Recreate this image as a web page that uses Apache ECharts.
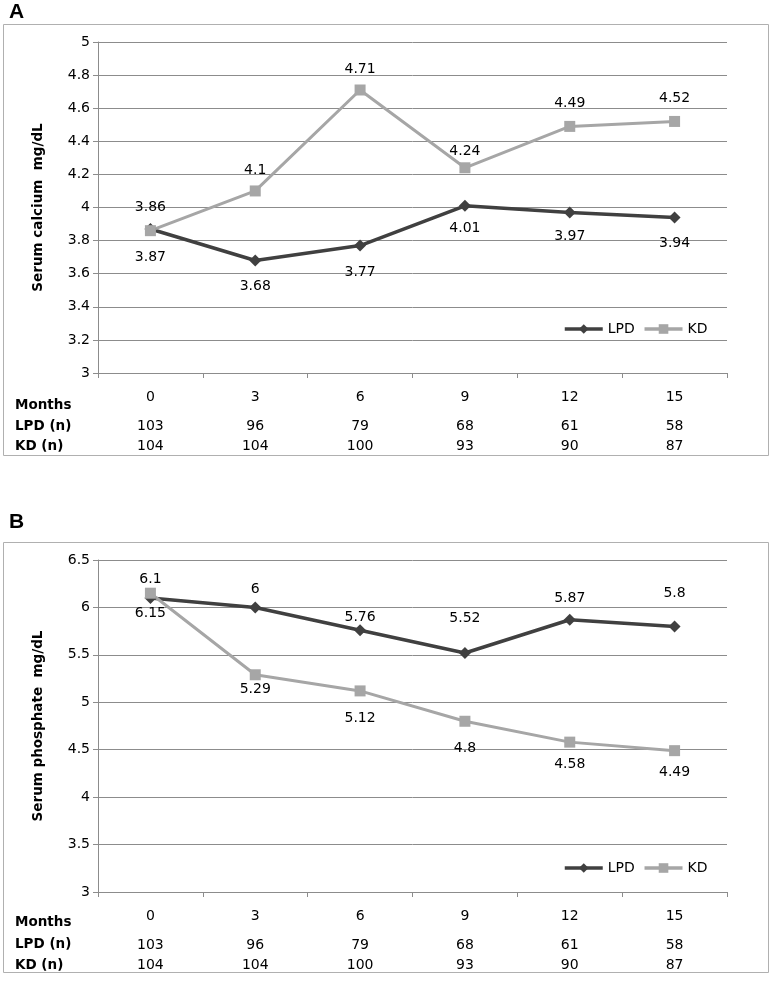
<!DOCTYPE html>
<html>
<head>
<meta charset="utf-8">
<script src="https://cdn.jsdelivr.net/npm/echarts@6/dist/echarts.min.js"></script>
<style>
html,body{margin:0;padding:0;background:#fff;}
#c{width:771px;height:991px;}
</style>
</head>
<body>
<div id="c"></div>
<script>
// ---- data ----
var months = ['0', '3', '6', '9', '12', '15'];
var lpdN = ['103', '96', '79', '68', '61', '58'];
var kdN = ['104', '104', '100', '93', '90', '87'];
var calciumLPD = [3.87, 3.68, 3.77, 4.01, 3.97, 3.94];
var calciumKD = [3.86, 4.1, 4.71, 4.24, 4.49, 4.52];
var phosphateLPD = [6.1, 6.0, 5.76, 5.52, 5.87, 5.8];
var phosphateKD = [6.15, 5.29, 5.12, 4.8, 4.58, 4.49];
var rowHeaders = ['Months', 'LPD (n)', 'KD (n)'];

// ---- styles (label vertical shifts, px) ----
var shiftCaLPD = [28, 26, 27, 23, 24, 26];
var shiftCaKD = [-23, -21, -21, -16, -23, -23];
var shiftPhLPD = [-19, -18, -13, -35, -21, -33];
var shiftPhKD = [20, 15, 27, 27, 22, 22];

var FONT = 'DejaVu Sans';
var DARK = '#404040';
var LIGHT = '#a6a6a6';
var GRIDC = '#8c8c8c';

var chart = echarts.init(document.getElementById('c'), null, {renderer: 'canvas'});

function xAxes(gi) {
  var base = {
    type: 'category', gridIndex: gi, position: 'bottom',
    axisLine: {show: false}, axisTick: {show: false}, splitLine: {show: false},
    axisLabel: {fontFamily: FONT, fontSize: 14, color: '#000', margin: 17}
  };
  return [
    Object.assign({}, base, {
      data: months,
      axisLine: {show: true, lineStyle: {color: GRIDC, width: 1}},
      axisTick: {show: true, length: 5, lineStyle: {color: GRIDC}}
    }),
    Object.assign({}, base, {data: lpdN, offset: 29}),
    Object.assign({}, base, {data: kdN, offset: 49})
  ];
}

function yAxis(gi, min, max, interval, name) {
  return {
    type: 'value', gridIndex: gi, min: min, max: max, interval: interval,
    name: name, nameLocation: 'middle', nameGap: 53,
    nameTextStyle: {fontFamily: FONT, fontWeight: 'bold', fontSize: 13.5, color: '#000'},
    axisLine: {show: true, lineStyle: {color: GRIDC}},
    axisTick: {show: true, length: 5, lineStyle: {color: GRIDC}},
    axisLabel: {fontFamily: FONT, fontSize: 14, color: '#000', margin: 8},
    splitLine: {lineStyle: {color: GRIDC, width: 1}}
  };
}

function series(name, data, shifts, gi, color, symbol, size, width) {
  return {
    name: name, type: 'line',
    data: data.map(function (v, i) {
      return {value: v, label: {offset: [0, shifts[i]]}};
    }),
    xAxisIndex: gi * 3, yAxisIndex: gi,
    symbol: symbol, symbolSize: size,
    lineStyle: {color: color, width: width},
    itemStyle: {color: color},
    label: {show: true, position: 'inside',
      fontFamily: FONT, fontSize: 14, color: '#000'},
    animation: false
  };
}

var graphics = [
  {type: 'rect', shape: {x: 3.5, y: 24.5, width: 765, height: 431},
   style: {fill: 'none', stroke: '#b0b0b0', lineWidth: 1}},
  {type: 'rect', shape: {x: 3.5, y: 542.5, width: 765, height: 430},
   style: {fill: 'none', stroke: '#b0b0b0', lineWidth: 1}},
  {type: 'text', left: 9, top: 2, style: {text: 'A', font: 'bold 21px "Liberation Sans"', fill: '#000'}},
  {type: 'text', left: 9, top: 512, style: {text: 'B', font: 'bold 21px "Liberation Sans"', fill: '#000'}}
];
var rowYA = [406, 427, 447];
var rowYB = [923, 945, 966];
rowHeaders.forEach(function (t, i) {
  graphics.push({type: 'text', left: 15, top: rowYA[i] - 8,
    style: {text: t, font: 'bold 13.5px "DejaVu Sans"', fill: '#000'}});
  graphics.push({type: 'text', left: 15, top: rowYB[i] - 8,
    style: {text: t, font: 'bold 13.5px "DejaVu Sans"', fill: '#000'}});
});

var legendBase = {
  left: 558, itemWidth: 38, itemHeight: 12, itemGap: 8,
  lineStyle: {width: 3.5},
  data: ['LPD', 'KD'], textStyle: {fontFamily: FONT, fontSize: 14, color: '#000'}
};

var option = {
  animation: false,
  backgroundColor: '#fff',
  grid: [
    {left: 98, top: 42, width: 629, height: 331},
    {left: 98, top: 560, width: 629, height: 332}
  ],
  legend: [
    Object.assign({}, legendBase, {top: 317}),
    Object.assign({}, legendBase, {top: 856})
  ],
  xAxis: xAxes(0).concat(xAxes(1)),
  yAxis: [
    yAxis(0, 3, 5, 0.2, 'Serum calcium  mg/dL'),
    yAxis(1, 3, 6.5, 0.5, 'Serum phosphate  mg/dL')
  ],
  series: [
    series('LPD', calciumLPD, shiftCaLPD, 0, DARK, 'diamond', 12, 3.5),
    series('KD', calciumKD, shiftCaKD, 0, LIGHT, 'rect', 11, 3),
    series('LPD', phosphateLPD, shiftPhLPD, 1, DARK, 'diamond', 12, 3.5),
    series('KD', phosphateKD, shiftPhKD, 1, LIGHT, 'rect', 11, 3)
  ],
  graphic: graphics
};
chart.setOption(option);
</script>
</body>
</html>
